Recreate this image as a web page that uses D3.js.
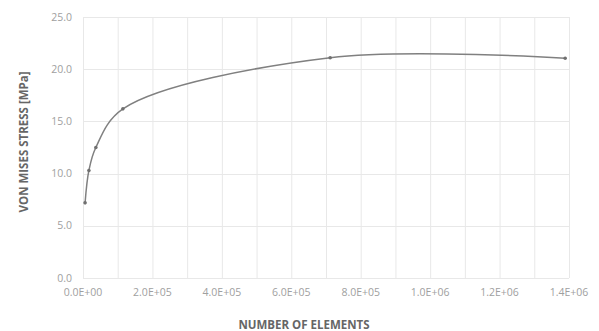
<!DOCTYPE html>
<html>
<head>
<meta charset="utf-8">
<script src="https://cdn.jsdelivr.net/npm/d3@7"></script>
<style>
  body { margin: 0; background: #fff; }
  svg { display: block; font-family: "Open Sans", sans-serif; }
</style>
</head>
<body>
<div id="chart"></div>
<script>
// mesh convergence: number of elements vs von mises stress
const elements = [6000, 17000, 37000, 115000, 712000, 1389000]
const stress = [7.2, 10.3, 12.5, 16.2, 21.1, 21.05]
const xTicks = [0, 2e5, 4e5, 6e5, 8e5, 1e6, 1.2e6, 1.4e6]
const xTickLabels = ["0.0E+00", "2.0E+05", "4.0E+05", "6.0E+05", "8.0E+05", "1.0E+06", "1.2E+06", "1.4E+06"]
const yTicks = [0, 5, 10, 15, 20, 25]

const W = 599, H = 331
let margin = {top: 17, right: 30, bottom: 53, left: 83}
let width = W - margin.left - margin.right
let height = H - margin.top - margin.bottom

const svg = d3.select("#chart").append("svg")
    .attr("width", W).attr("height", H)

const g = svg.append("g")
    .attr("transform", "translate(" + margin.left + "," + margin.top + ")")

const x = d3.scaleLinear().domain([0, 1.4e6]).range([0, width])
const y = d3.scaleLinear().domain([0, 25]).range([height, 0])

// vertical gridlines every 1E+05
g.append("g")
    .selectAll("line")
    .data(d3.range(0, 1.4e6 + 1, 1e5))
    .enter().append("line")
    .attr("x1", d => x(d) + 0.5).attr("x2", d => x(d) + 0.5)
    .attr("y1", 0).attr("y2", height)
    .attr("stroke", "#e8e8e8")

// horizontal gridlines
g.append("g")
    .selectAll("line")
    .data(yTicks)
    .enter().append("line")
    .attr("x1", 0).attr("x2", width)
    .attr("y1", d => Math.round(y(d)) + 0.5).attr("y2", d => Math.round(y(d)) + 0.5)
    .attr("stroke", "#e8e8e8")

// y tick labels
g.append("g")
    .selectAll("text")
    .data(yTicks)
    .enter().append("text")
    .attr("x", -11)
    .attr("y", d => y(d))
    .attr("dy", "0.35em")
    .attr("text-anchor", "end")
    .attr("font-size", 10.5)
    .attr("fill", "#a0a0a0")
    .text(d => d.toFixed(1))

// x tick labels
g.append("g")
    .selectAll("text")
    .data(xTicks)
    .enter().append("text")
    .attr("x", d => x(d))
    .attr("y", height + 18)
    .attr("text-anchor", "middle")
    .attr("font-size", 10.5)
    .attr("fill", "#a0a0a0")
    .text((d, i) => xTickLabels[i])

const pts = elements.map((e, i) => [e, stress[i]])

const line = d3.line()
    .x(d => x(d[0]))
    .y(d => y(d[1]))
    .curve(d3.curveCatmullRom.alpha(0.5))

g.append("path")
    .datum(pts)
    .attr("d", line)
    .attr("fill", "none")
    .attr("stroke", "#808080")
    .attr("stroke-width", 1.5)

g.append("g")
    .selectAll("circle")
    .data(pts)
    .enter().append("circle")
    .attr("cx", d => x(d[0]))
    .attr("cy", d => y(d[1]))
    .attr("r", 1.8)
    .attr("fill", "#707070")

// axis titles
svg.append("text")
    .attr("x", 304)
    .attr("y", 329)
    .attr("text-anchor", "middle")
    .attr("font-size", 11.5)
    .attr("font-weight", "bold")
    .attr("fill", "#666")
    .text("NUMBER OF ELEMENTS")

svg.append("text")
    .attr("transform", "translate(28,142) rotate(-90)")
    .attr("text-anchor", "middle")
    .attr("font-size", 11.5)
    .attr("font-weight", "bold")
    .attr("fill", "#666")
    .text("VON MISES STRESS [MPa]")
</script>
</body>
</html>
